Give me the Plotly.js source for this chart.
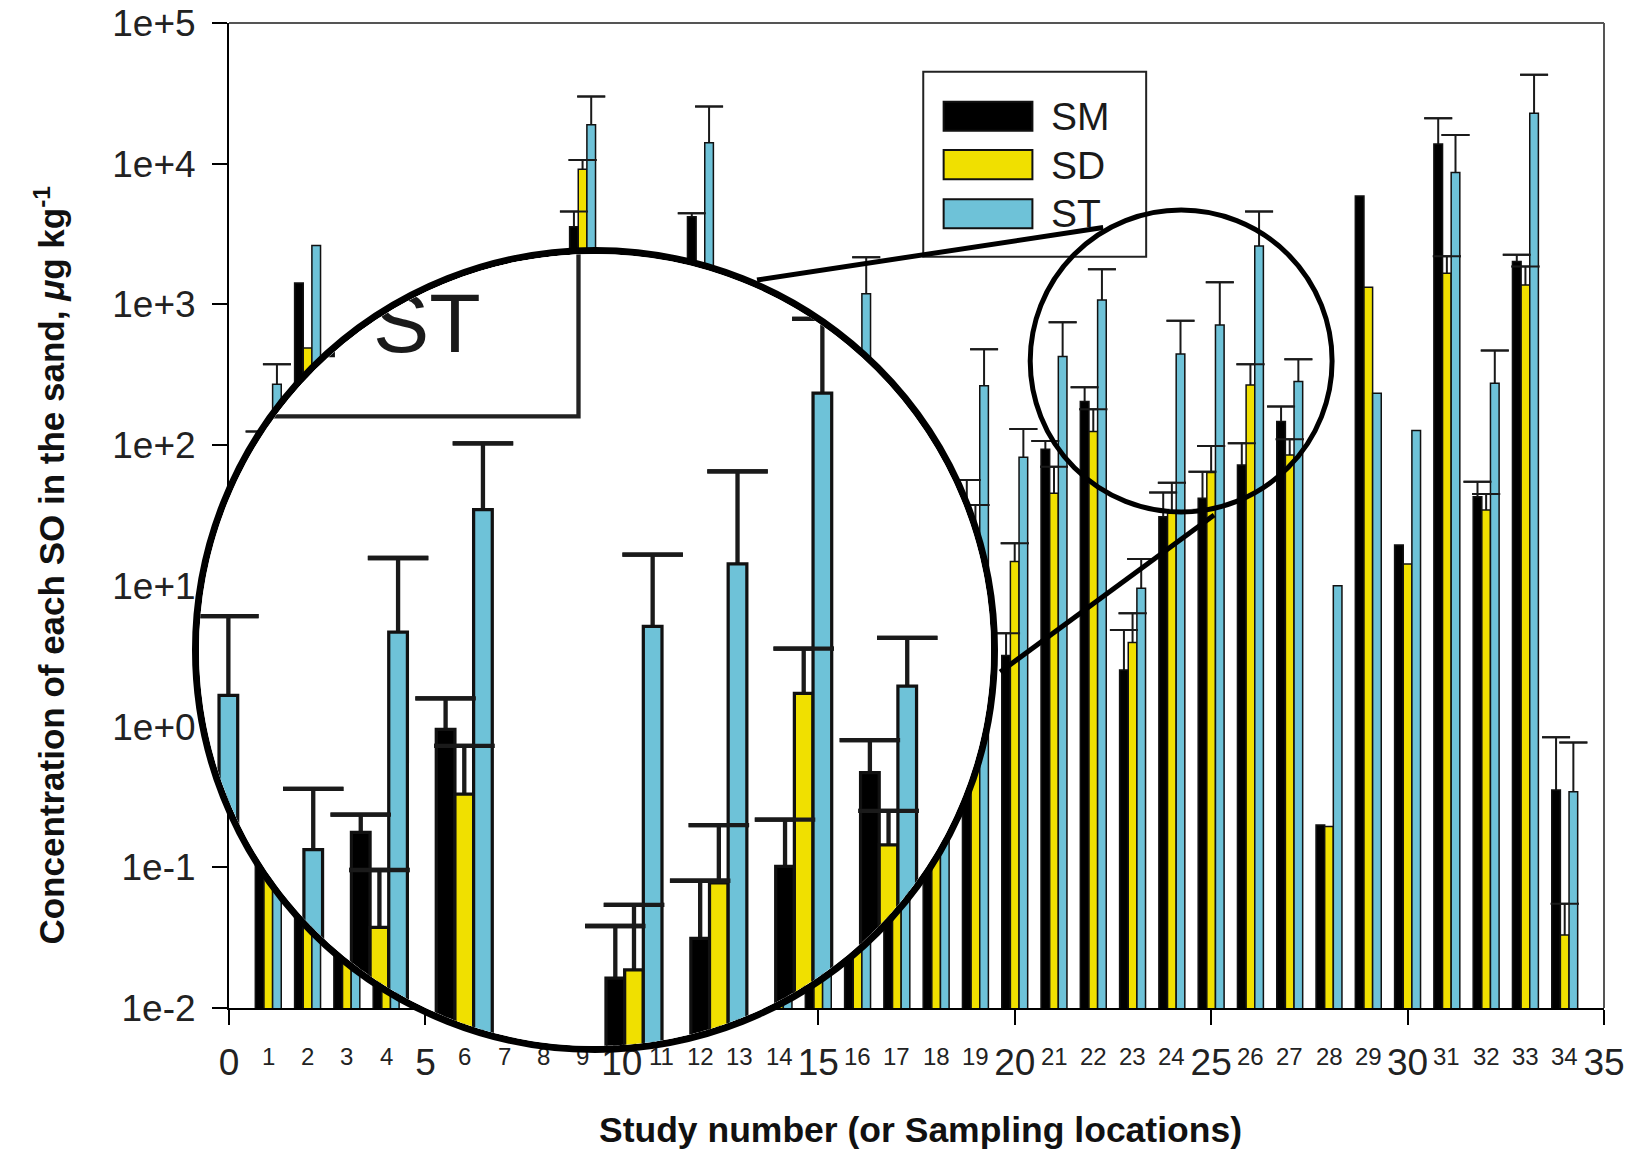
<!DOCTYPE html>
<html>
<head>
<meta charset="utf-8">
<script src="https://cdn.plot.ly/plotly-3.0.1.min.js"></script>
<style>
html,body{margin:0;padding:0;background:#fff;}
#wrap{position:relative;width:1636px;height:1152px;overflow:hidden;background:#fff;}
#main{position:absolute;left:0;top:0;width:1636px;height:1152px;}
#lens{position:absolute;left:192px;top:246.5px;width:806px;height:806px;border-radius:50%;border:7px solid #000;box-sizing:border-box;overflow:hidden;background:#fff;}
#mag{position:absolute;left:0;top:0;width:1636px;height:1152px;transform-origin:0 0;}
</style>
</head>
<body>
<div id="wrap"><div id="main"></div><div id="lens"><div id="mag"></div></div></div>
<script>
// ---------------- data ----------------
const studies = [1,2,3,4,5,6,7,8,9,10,11,12,13,14,15,16,17,18,19,20,21,22,23,24,25,26,27,28,29,30,31,32,33,34];
const seriesNames = ['SM','SD','ST'];
const sm = [80,1420,15,3,50,100,5,10,3570,200,30,4200,60,20,8,40,5,10,35,3.2,93.5,204,2.52,31,41.9,72.3,147,0.2,5900,19.5,13800,43,2015,0.354];
const smErr = [45,null,null,null,null,null,null,null,1000,null,null,250,null,null,null,null,null,null,21.6,1.4,13.5,54,2.34,15,22.9,30.7,41,null,null,null,7200,12,235,0.486];
const sd = [25,490,5,1,20,40,2,5,9140,80,10,800,25,10,4,15,2,5,22,14.9,45.5,125,3.95,33,63.8,268,85,0.195,1325,14.3,1667,34.6,1377,0.033];
const sdErr = [null,null,null,null,null,null,null,null,1500,null,null,null,null,null,null,null,null,null,15.6,5.2,24.8,55,2.45,21,34.9,108,25,null,null,null,533,10.4,483,0.022];
const st = [271,2620,40,20,150,300,30,60,18900,500,100,14100,300,150,80,1190,20,30,264,82,426,1077,9.6,445,715,2605,283,10.0,234,127,8650,275,22860,0.344];
const stErr = [104,null,null,null,null,null,null,null,11100,null,null,11400,null,null,null,970,null,null,217,48,321,703,5.9,322,725,1965,125,null,null,null,7350,195,19940,0.426];

const majorTicks = [0,5,10,15,20,25,30,35];
const majorLabels = ['0','5','10','15','20','25','30','35'];
const minorTicks = [1,2,3,4,6,7,8,9,11,12,13,14,16,17,18,19,21,22,23,24,26,27,28,29,31,32,33,34];
const minorLabels = ['1','2','3','4','6','7','8','9','11','12','13','14','16','17','18','19','21','22','23','24','26','27','28','29','31','32','33','34'];
const yTickVals = [0.01,0.1,1,10,100,1000,10000,100000];
const yTickText = ['1e-2','1e-1','1e+0','1e+1','1e+2','1e+3','1e+4','1e+5'];

const xTitle = '<b>Study number (or Sampling locations)</b>';
const yTitle = '<b>Concentration of each SO in the sand, <i>μ</i>g kg<sup>-1</sup></b>';

// ---------------- styling ----------------
const F = 'Liberation Sans, Arial, Helvetica, sans-serif';
const colors = {SM:'#000000', SD:'#f0e000', ST:'#6ec2d8'};
const L = 228.5, R = 1604, T = 23, B = 1008;
const W = R - L, H = B - T;
const px = x => (x - L) / W;
const py = y => (B - y) / H;

function buildTraces() {
  const series = [
    {name:'SM', y:sm, err:smErr},
    {name:'SD', y:sd, err:sdErr},
    {name:'ST', y:st, err:stErr}
  ];
  const clear = 'rgba(0,0,0,0)';
  const eb = {color:'#1a1a1a', thickness:2, width:14};
  const out = [];
  // stems (drawn beneath the bars)
  series.forEach(s => out.push({
    type:'bar', x:studies, y:s.y, offsetgroup:s.name, showlegend:false, hoverinfo:'skip',
    marker:{color:clear, line:{width:0}},
    error_y:Object.assign({type:'data', visible:true, symmetric:false,
      array:s.err.map(e => e == null ? NaN : e),
      arrayminus:s.y.map((v, i) => s.err[i] == null ? NaN : 2 * v)}, eb)
  }));
  // bars
  series.forEach(s => out.push({
    type:'bar', name:s.name, x:studies, y:s.y, offsetgroup:s.name, showlegend:false,
    marker:{color:colors[s.name], line:{color:'#111111', width:1.5}}
  }));
  // caps (drawn above all bars)
  series.forEach(s => out.push({
    type:'bar', x:studies, y:s.y.map((v, i) => s.err[i] == null ? NaN : v + s.err[i]),
    offsetgroup:s.name, showlegend:false, hoverinfo:'skip',
    marker:{color:clear, line:{width:0}},
    error_y:Object.assign({type:'data', visible:true, symmetric:false,
      array:s.err.map(e => e == null ? NaN : 0), arrayminus:s.err.map(e => e == null ? NaN : 0)}, eb)
  }));
  return out;
}

function buildLayout(isMain) {
  const shapes = [
    {type:'line', xref:'paper', yref:'paper', x0:0, x1:1, y0:1, y1:1, line:{color:'#555', width:2}},
    {type:'line', xref:'paper', yref:'paper', x0:1, x1:1, y0:0, y1:1, line:{color:'#555', width:2}},
    // legend box and swatches
    {type:'rect', xref:'paper', yref:'paper', layer:'above', x0:px(923), x1:px(1146), y0:py(256.7), y1:py(71.7), line:{color:'#222', width:2}, fillcolor:'#fff'},
    {type:'rect', xref:'paper', yref:'paper', layer:'above', x0:px(943.4), x1:px(1032.2), y0:py(130.7), y1:py(101.7), line:{color:'#111', width:2}, fillcolor:colors.SM},
    {type:'rect', xref:'paper', yref:'paper', layer:'above', x0:px(943.4), x1:px(1032.2), y0:py(179.3), y1:py(150), line:{color:'#111', width:2}, fillcolor:colors.SD},
    {type:'rect', xref:'paper', yref:'paper', layer:'above', x0:px(943.4), x1:px(1032.2), y0:py(228.3), y1:py(199.3), line:{color:'#111', width:2}, fillcolor:colors.ST}
  ];
  const legendFont = {family:F, size:39, color:'#1a1a1a'};
  const legendText = [116.5, 165, 214].map((yy, i) => ({
    text:seriesNames[i], xref:'paper', yref:'paper', x:px(1049), y:py(yy), xanchor:'left', yanchor:'middle', showarrow:false, font:legendFont
  }));
  let annotations;
  if (isMain) {
    shapes.push(
      {type:'circle', xref:'paper', yref:'paper', layer:'above', x0:px(1181-151), x1:px(1181+151), y0:py(361+151), y1:py(361-151), line:{color:'#000', width:5}},
      {type:'line', xref:'paper', yref:'paper', layer:'above', x0:px(1103), y0:py(227.5), x1:px(756.7), y1:py(280), line:{color:'#000', width:5}},
      {type:'line', xref:'paper', yref:'paper', layer:'above', x0:px(1214), y0:py(515), x1:px(1000), y1:py(672), line:{color:'#000', width:5}}
    );
    annotations = [
      {text:yTitle, textangle:-90, xref:'paper', yref:'paper', x:px(49), y:py(565), xanchor:'center', yanchor:'middle', showarrow:false, font:{family:F, size:35, color:'#111'}},
      {text:xTitle, xref:'paper', yref:'paper', x:px(920), y:py(1130), xanchor:'center', yanchor:'middle', showarrow:false, font:{family:F, size:35.5, color:'#111'}}
    ].concat(legendText);
    // small in-between tick labels of the study axis
    minorTicks.forEach((v, i) => annotations.push({
      text:minorLabels[i], xref:'x', yref:'paper', x:v, y:py(1041), xanchor:'center', yanchor:'top',
      showarrow:false, font:{family:F, size:24, color:'#222'}
    }));
  } else {
    // only the part of the chart that shows inside the magnifier
    annotations = [legendText[2]];
  }
  return {
    width:1636, height:1152, autosize:false,
    margin:{l:L, r:1636 - R, t:T, b:1152 - B, pad:0},
    paper_bgcolor:'#fff', plot_bgcolor:'#fff',
    barmode:'group', bargap:0.34, bargroupgap:0,
    showlegend:false,
    font:{family:F, color:'#222'},
    xaxis:{range:[0,35], tickmode:'array', tickvals:majorTicks, ticktext:majorLabels,
      ticks:'outside', ticklen:15, tickwidth:2, tickcolor:'#000', showticklabels:isMain,
      showline:true, linecolor:'#000', linewidth:2, showgrid:false, zeroline:false,
      tickfont:{family:F, size:37, color:'#222'}, ticklabelstandoff:6, fixedrange:true},
    yaxis:{type:'log', range:[-2,5], tickmode:'array', tickvals:yTickVals, ticktext:yTickText,
      ticks:'outside', ticklen:15, tickwidth:2, tickcolor:'#000', showticklabels:isMain,
      showline:true, linecolor:'#000', linewidth:2, showgrid:false, zeroline:false,
      tickfont:{family:F, size:37, color:'#222'}, ticklabelstandoff:9, fixedrange:true},
    shapes:shapes, annotations:annotations
  };
}

const cfg = {staticPlot:true, displayModeBar:false, responsive:false};
Plotly.newPlot('main', buildTraces(), buildLayout(true), cfg);

// magnified copy of the same chart inside the lens
const k = 2.16;                 // magnification
const A = {x:228, y:695};       // page point in the lens ...
const Bp = {x:983.9, y:385.9};  // ... showing this chart point
const O = {x:192 + 7, y:246.5 + 7};
Plotly.newPlot('mag', buildTraces(), buildLayout(false), cfg).then(() => {
  const tx = A.x - k * Bp.x - O.x;
  const ty = A.y - k * Bp.y - O.y;
  document.getElementById('mag').style.transform = 'translate(' + tx + 'px,' + ty + 'px) scale(' + k + ')';
});
</script>
</body>
</html>
